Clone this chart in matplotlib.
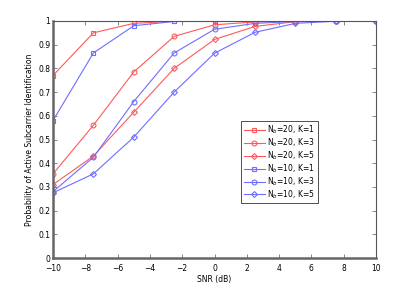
import matplotlib.pyplot as plt
import numpy as np

# SNR points and detection probabilities
snr = [-10, -7.5, -5, -2.5, 0, 2.5, 5, 7.5, 10]

nb20_k1 = [0.77, 0.95, 0.99, 0.999, 1.0, 1.0, 1.0, 1.0, 1.0]
nb20_k3 = [0.355, 0.56, 0.785, 0.935, 0.984, 0.996, 0.999, 1.0, 1.0]
nb20_k5 = [0.31, 0.43, 0.615, 0.80, 0.922, 0.977, 0.997, 1.0, 1.0]
nb10_k1 = [0.58, 0.865, 0.98, 0.998, 1.0, 1.0, 1.0, 1.0, 1.0]
nb10_k3 = [0.28, 0.425, 0.66, 0.865, 0.965, 0.99, 0.998, 1.0, 1.0]
nb10_k5 = [0.275, 0.355, 0.51, 0.70, 0.864, 0.952, 0.99, 0.999, 1.0]

labels = [r'N$_b$=20, K=1', r'N$_b$=20, K=3', r'N$_b$=20, K=5',
          r'N$_b$=10, K=1', r'N$_b$=10, K=3', r'N$_b$=10, K=5']

red = '#ff5a5a'
blue = '#6e6eff'

fig = plt.figure(figsize=(4.15, 2.91), dpi=100)
ax = fig.add_axes([53 / 415, 1 - 258 / 291, 323 / 415, 237 / 291])

series = [nb20_k1, nb20_k3, nb20_k5, nb10_k1, nb10_k3, nb10_k5]
colors = [red, red, red, blue, blue, blue]
markers = ['s', 'o', 'D', 's', 'o', 'D']
sizes = [3.2, 3.5, 3.0, 3.2, 3.5, 3.0]
for y, c, m, ms, lab in zip(series, colors, markers, sizes, labels):
    ax.plot(snr, y, color=c, marker=m, markersize=ms, markerfacecolor='none',
            markeredgecolor=c, markeredgewidth=0.8, linewidth=0.8, label=lab)

ax.set_xlim(-10, 10)
ax.set_ylim(0, 1)
ax.set_xticks(np.arange(-10, 11, 2))
ax.set_yticks(np.arange(0, 1.01, 0.1))
ax.set_xticklabels(['\u221210', '\u22128', '\u22126', '\u22124', '\u22122', '0', '2', '4', '6', '8', '10'])
ax.set_yticklabels(['0', '0.1', '0.2', '0.3', '0.4', '0.5', '0.6', '0.7', '0.8', '0.9', '1'])
ax.tick_params(direction='in', top=True, right=True, labelsize=5.5, length=3,
               width=0.5, pad=2, color='#555555')
ax.tick_params(axis='x', pad=4)
for side in ['left', 'bottom']:
    ax.spines[side].set_linewidth(1.8)
    ax.spines[side].set_color('#666666')
for side in ['top', 'right']:
    ax.spines[side].set_linewidth(0.8)
    ax.spines[side].set_color('#555555')

ax.set_xlabel('SNR (dB)', fontsize=5.5, labelpad=2)
ax.set_ylabel('Probability of Active Subcarrier Identification', fontsize=5.5, labelpad=3)

leg = ax.legend(loc='upper left', bbox_to_anchor=(188 / 323, (258 - 121) / 237),
                fontsize=5.5, frameon=True, fancybox=False, edgecolor='black',
                handlelength=2.8, labelspacing=0.05, borderpad=0.35,
                handletextpad=0.3, borderaxespad=0)
leg.get_frame().set_linewidth(0.6)

fig.savefig('out.png', dpi=100)
